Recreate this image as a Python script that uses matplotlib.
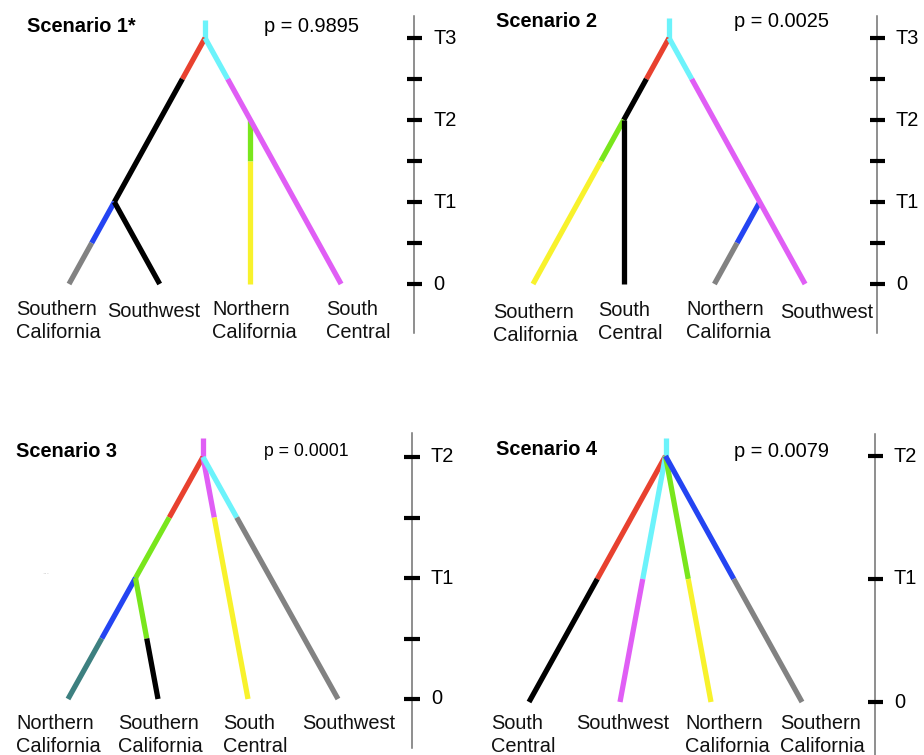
import matplotlib
matplotlib.use("Agg")
import matplotlib.pyplot as plt

plt.rcParams['font.family'] = ['Liberation Sans', 'DejaVu Sans']

W, H, DPI = 924, 755, 100

# ---------------- colours ----------------
CYAN = '#6cf3fb'
RED = '#e8412f'
BLACK = '#000000'
MAGENTA = '#e05ef5'
GREEN = '#79e61c'
YELLOW = '#f8f22c'
BLUE = '#2444f2'
GRAY = '#828282'
TEAL = '#3d8080'

# ---------------- data ----------------
titles = ["Scenario 1*", "Scenario 2", "Scenario 3", "Scenario 4"]
p_values = ["p = 0.9895", "p = 0.0025", "p = 0.0001", "p = 0.0079"]

s1_leaves = ["Southern\nCalifornia", "Southwest", "Northern\nCalifornia", "South\nCentral"]
s2_leaves = ["Southern\nCalifornia", "South\nCentral", "Northern\nCalifornia", "Southwest"]
s3_leaves = ["Northern\nCalifornia", "Southern\nCalifornia", "South\nCentral", "Southwest"]
s4_leaves = ["South\nCentral", "Southwest", "Northern\nCalifornia", "Southern\nCalifornia"]

# time ticks (t: 0, T1=1, T2=2, T3=3)
s12_ticks = [0, 0.5, 1, 1.5, 2, 2.5, 3]
s12_tick_labels = {0: "0", 1: "T1", 2: "T2", 3: "T3"}
s3_ticks = [0, 0.5, 1, 1.5, 2]
s3_tick_labels = {0: "0", 1: "T1", 2: "T2"}
s4_ticks = [0, 1, 2]
s4_tick_labels = {0: "0", 1: "T1", 2: "T2"}

# nodes: (leaf-position, time)
s1_nodes = {'top': (1.5, 3.22), 'root': (1.5, 3.0), 'a': (0.5, 1.0), 'b': (2.0, 2.0),
            'L0': (0, 0), 'L1': (1, 0), 'L2': (2, 0), 'L3': (3, 0)}
s1_branches = [('root', 'top', [CYAN], []),
               ('root', 'a', [RED, BLACK], [2.5]),
               ('a', 'L0', [BLUE, GRAY], [0.5]),
               ('a', 'L1', [BLACK], []),
               ('b', 'L2', [GREEN, YELLOW], [1.5]),
               ('root', 'L3', [CYAN, MAGENTA], [2.5])]

s2_nodes = {'top': (1.5, 3.24), 'root': (1.5, 3.0), 'a': (1.0, 2.0), 'b': (2.5, 1.0),
            'L0': (0, 0), 'L1': (1, 0), 'L2': (2, 0), 'L3': (3, 0)}
s2_branches = [('root', 'top', [CYAN], []),
               ('root', 'a', [RED, BLACK], [2.5]),
               ('a', 'L0', [GREEN, YELLOW], [1.5]),
               ('a', 'L1', [BLACK], []),
               ('b', 'L2', [BLUE, GRAY], [0.5]),
               ('root', 'L3', [CYAN, MAGENTA], [2.5])]

s3_nodes = {'top': (1.5, 2.16), 'root': (1.5, 2.0), 'a': (0.75, 1.0),
            'L0': (0, 0), 'L1': (1, 0), 'L2': (2, 0), 'L3': (3, 0)}
s3_branches = [('root', 'top', [MAGENTA], []),
               ('root', 'a', [RED, GREEN], [1.5]),
               ('a', 'L0', [BLUE, TEAL], [0.5]),
               ('a', 'L1', [GREEN, BLACK], [0.5]),
               ('root', 'L2', [MAGENTA, YELLOW], [1.5]),
               ('root', 'L3', [CYAN, GRAY], [1.5])]

s4_nodes = {'top': (1.5, 2.15), 'root': (1.5, 2.0),
            'L0': (0, 0), 'L1': (1, 0), 'L2': (2, 0), 'L3': (3, 0)}
s4_branches = [('root', 'top', [CYAN], []),
               ('root', 'L0', [RED, BLACK], [1.0]),
               ('root', 'L1', [CYAN, MAGENTA], [1.0]),
               ('root', 'L2', [GREEN, YELLOW], [1.0]),
               ('root', 'L3', [BLUE, GRAY], [1.0])]

# ---------------- layout (pixels) ----------------
panels = [
    dict(box=(0, 0, 462, 377), leaf0=69, dx=90.7, t0=284, unit=82,
         axis_x=414, axis_y=(16, 333), tick_half=7.5,
         title=(27, 32), pval=(264, 32), pfs=14.4,
         label_x=[16, 107, 212, 326], label_y=[315, 317, 315, 315],
         leaves=s1_leaves, nodes=s1_nodes, branches=s1_branches,
         ticks=s12_ticks, tick_labels=s12_tick_labels),
    dict(box=(462, 0, 924, 377), leaf0=533, dx=90.7, t0=284, unit=82,
         axis_x=877, axis_y=(16, 333), tick_half=7.5,
         title=(496, 27), pval=(734, 27), pfs=14.4,
         label_x=[493, 598, 686, 780], label_y=[318, 316, 315, 318],
         leaves=s2_leaves, nodes=s2_nodes, branches=s2_branches,
         ticks=s12_ticks, tick_labels=s12_tick_labels),
    dict(box=(0, 377, 462, 755), leaf0=68, dx=90, t0=699, unit=121,
         axis_x=412, axis_y=(433, 748), tick_half=7.5,
         title=(16, 457), pval=(264, 456), pfs=12.7,
         label_x=[16, 118, 223, 302], label_y=[729, 729, 729, 729],
         leaves=s3_leaves, nodes=s3_nodes, branches=s3_branches,
         ticks=s3_ticks, tick_labels=s3_tick_labels),
    dict(box=(462, 377, 924, 755), leaf0=529, dx=91, t0=702, unit=123,
         axis_x=875, axis_y=(434, 755), tick_half=7.5,
         title=(496, 455), pval=(734, 457), pfs=14.4,
         label_x=[491, 576, 685, 780], label_y=[729, 729, 729, 729],
         leaves=s4_leaves, nodes=s4_nodes, branches=s4_branches,
         ticks=s4_ticks, tick_labels=s4_tick_labels),
]

LINE_SPACING = 23
FS = 14.4
TICK_FS = 14.4
LW = 3.8

fig = plt.figure(figsize=(W / DPI, H / DPI), dpi=DPI)
fig.patch.set_facecolor('white')


def draw_branch(ax, p0, p1, colours, breaks):
    (x0, t0), (x1, t1) = p0, p1
    ts = [t0] + list(breaks) + [t1]
    for i, c in enumerate(colours):
        ta, tb = ts[i], ts[i + 1]
        xa = x0 + (x1 - x0) * (ta - t0) / (t1 - t0)
        xb = x0 + (x1 - x0) * (tb - t0) / (t1 - t0)
        ax.plot([xa, xb], [ta, tb], color=c, lw=LW, solid_capstyle='butt', zorder=3)


for i, P in enumerate(panels):
    bx0, by0, bx1, by1 = P['box']
    ax = fig.add_axes([bx0 / W, 1 - by1 / H, (bx1 - bx0) / W, (by1 - by0) / H])
    px = lambda x, P=P: (x - P['leaf0']) / P['dx']
    py = lambda y, P=P: (P['t0'] - y) / P['unit']
    ax.set_xlim(px(bx0), px(bx1))
    ax.set_ylim(py(by1), py(by0))
    ax.axis('off')

    # tree
    for (a, b, cols, brk) in P['branches']:
        draw_branch(ax, P['nodes'][a], P['nodes'][b], cols, brk)

    # time axis
    axx = px(P['axis_x'])
    ax.plot([axx, axx], [py(P['axis_y'][0]), py(P['axis_y'][1])],
            color='#707070', lw=1.1, zorder=2, clip_on=False)
    hw = P['tick_half'] / P['dx']
    ax.hlines(P['ticks'], axx - hw, axx + hw, color='black', lw=3.0, zorder=3)
    for t, lab in P['tick_labels'].items():
        ax.text(px(P['axis_x'] + 19), t, lab, fontsize=TICK_FS, ha='left',
                va='center', color='black')

    # leaf labels
    for k, lab in enumerate(P['leaves']):
        for j, line in enumerate(lab.split("\n")):
            ax.text(px(P['label_x'][k]), py(P['label_y'][k] + j * LINE_SPACING), line,
                    fontsize=FS, ha='left', va='baseline', color='#111111', clip_on=False)

    # title and p-value
    ax.text(px(P['title'][0]), py(P['title'][1]), titles[i], fontsize=FS,
            fontweight='bold', ha='left', va='baseline', color='black')
    ax.text(px(P['pval'][0]), py(P['pval'][1]), p_values[i], fontsize=P['pfs'],
            ha='left', va='baseline', color='black')

    if i == 2:
        ax.text(px(46), py(573), "...", fontsize=6, color='#c8c8c8',
                ha='center', va='center')

fig.savefig("out.png", dpi=DPI, facecolor='white')
